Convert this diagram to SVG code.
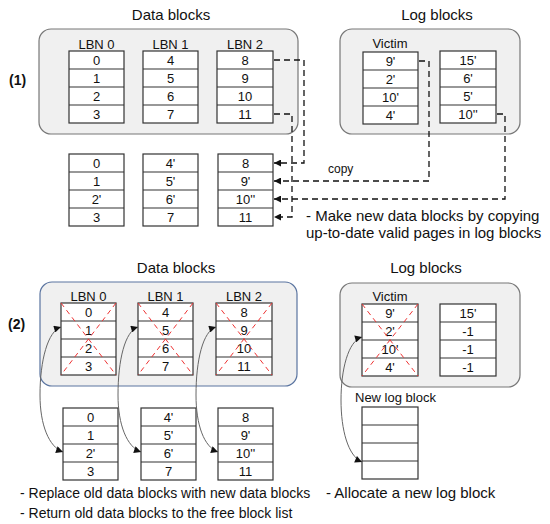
<svg xmlns="http://www.w3.org/2000/svg" width="550" height="524" viewBox="0 0 550 524">
<defs>
<style>
text{font-family:"Liberation Sans",Arial,sans-serif;fill:#111}
.t{font-size:15px;text-anchor:middle}
.n{font-size:15px}
.m{font-size:14px}
.lbl{font-size:13px;text-anchor:middle}
.c{font-size:13px;text-anchor:middle}
.b{font-size:14px;font-weight:bold}
.panel{fill:#f0f0f0;stroke:#777;stroke-width:1.2}
.panelb{fill:#f0f0f0;stroke:#5a74a0;stroke-width:1.2}
.cell{fill:#fff;stroke:#333;stroke-width:1.2}
.ln{stroke:#333;stroke-width:1.2}
.x{stroke:#e33;stroke-width:1;stroke-dasharray:5 4}
.dash{fill:none;stroke:#111;stroke-width:1.3;stroke-dasharray:6 4}
.curve{fill:none;stroke:#666;stroke-width:1}
</style>
<marker id="ah" viewBox="0 0 10 10" refX="10" refY="5" markerWidth="8" markerHeight="7" markerUnits="userSpaceOnUse" orient="auto"><path d="M0,0 L10,5 L0,10 z" fill="#111"/></marker>
<marker id="ac" viewBox="0 0 10 10" refX="10" refY="5" markerWidth="8" markerHeight="7" markerUnits="userSpaceOnUse" orient="auto-start-reverse"><path d="M0,0 L10,5 L0,10 z" fill="#111"/></marker>
</defs>
<rect width="550" height="524" fill="#fff"/>

<!-- Part 1 -->
<g id="label1"><text class="b" x="9" y="85">(1)</text></g>
<g id="data-panel-1">
<rect class="panel" x="39" y="29" width="259" height="105" rx="12"/>
<text class="t" x="171" y="20">Data blocks</text>
</g>
<g id="log-panel-1">
<rect class="panel" x="340" y="29" width="180" height="105" rx="12"/>
<text class="t" x="437" y="20">Log blocks</text>
</g>

<g id="p1-lbn0">
<text class="lbl" x="96.5" y="49">LBN 0</text>
<rect class="cell" x="69" y="51" width="55" height="72"/>
<path class="ln" d="M69,69H124M69,87H124M69,105H124"/>
<text class="c" x="96.5" y="64.5">0</text><text class="c" x="96.5" y="82.5">1</text><text class="c" x="96.5" y="100.5">2</text><text class="c" x="96.5" y="118.5">3</text>
</g>
<g id="p1-lbn1">
<text class="lbl" x="170.5" y="49">LBN 1</text>
<rect class="cell" x="143" y="51" width="55" height="72"/>
<path class="ln" d="M143,69H198M143,87H198M143,105H198"/>
<text class="c" x="170.5" y="64.5">4</text><text class="c" x="170.5" y="82.5">5</text><text class="c" x="170.5" y="100.5">6</text><text class="c" x="170.5" y="118.5">7</text>
</g>
<g id="p1-lbn2">
<text class="lbl" x="245" y="49">LBN 2</text>
<rect class="cell" x="217" y="51" width="56" height="72"/>
<path class="ln" d="M217,69H273M217,87H273M217,105H273"/>
<text class="c" x="245" y="64.5">8</text><text class="c" x="245" y="82.5">9</text><text class="c" x="245" y="100.5">10</text><text class="c" x="245" y="118.5">11</text>
</g>
<g id="p1-victim">
<text class="lbl" x="390" y="48">Victim</text>
<rect class="cell" x="363" y="52" width="55" height="72"/>
<path class="ln" d="M363,70H418M363,88H418M363,106H418"/>
<text class="c" x="390.5" y="65.5">9'</text><text class="c" x="390.5" y="83.5">2'</text><text class="c" x="390.5" y="101.5">10'</text><text class="c" x="390.5" y="119.5">4'</text>
</g>
<g id="p1-log2">
<rect class="cell" x="440" y="51" width="56" height="72"/>
<path class="ln" d="M440,69H496M440,87H496M440,105H496"/>
<text class="c" x="468" y="64.5">15'</text><text class="c" x="468" y="82.5">6'</text><text class="c" x="468" y="100.5">5'</text><text class="c" x="468" y="118.5">10''</text>
</g>

<g id="p1-new0">
<rect class="cell" x="69" y="154" width="55" height="72"/>
<path class="ln" d="M69,172H124M69,190H124M69,208H124"/>
<text class="c" x="96.5" y="167.5">0</text><text class="c" x="96.5" y="185.5">1</text><text class="c" x="96.5" y="203.5">2'</text><text class="c" x="96.5" y="221.5">3</text>
</g>
<g id="p1-new1">
<rect class="cell" x="143" y="154" width="55" height="72"/>
<path class="ln" d="M143,172H198M143,190H198M143,208H198"/>
<text class="c" x="170.5" y="167.5">4'</text><text class="c" x="170.5" y="185.5">5'</text><text class="c" x="170.5" y="203.5">6'</text><text class="c" x="170.5" y="221.5">7</text>
</g>
<g id="p1-new2">
<rect class="cell" x="218" y="154" width="55" height="72"/>
<path class="ln" d="M218,172H273M218,190H273M218,208H273"/>
<text class="c" x="245.5" y="167.5">8</text><text class="c" x="245.5" y="185.5">9'</text><text class="c" x="245.5" y="203.5">10''</text><text class="c" x="245.5" y="221.5">11</text>
</g>

<g id="connectors-1">
<path class="dash" d="M274,60H304V163H274" marker-end="url(#ah)"/>
<path class="dash" d="M274,114H292V217H274" marker-end="url(#ah)"/>
<path class="dash" d="M419,61H429V181H274" marker-end="url(#ah)"/>
<path class="dash" d="M497,114H505V199H274" marker-end="url(#ah)"/>
<text style="font-size:12px" x="328" y="173">copy</text>
</g>
<g id="note-1">
<text class="n" x="306" y="221">- Make new data blocks by copying</text>
<text class="n" x="306" y="238">up-to-date valid pages in log blocks</text>
</g>

<!-- Part 2 -->
<g id="label2"><text class="b" x="8" y="329">(2)</text></g>
<g id="data-panel-2">
<rect class="panelb" x="40" y="282" width="257" height="104" rx="12"/>
<text class="t" x="176" y="273">Data blocks</text>
</g>
<g id="log-panel-2">
<rect class="panel" x="340" y="283" width="180" height="104" rx="12"/>
<text class="t" x="426" y="273">Log blocks</text>
</g>

<g id="p2-lbn0">
<text class="lbl" x="88.5" y="301">LBN 0</text>
<rect class="cell" x="61" y="303" width="55" height="72"/>
<path class="ln" d="M61,321H116M61,339H116M61,357H116"/>
<text class="c" x="88.5" y="316.5">0</text><text class="c" x="88.5" y="334.5">1</text><text class="c" x="88.5" y="352.5">2</text><text class="c" x="88.5" y="370.5">3</text>
<path class="x" d="M61,303L116,375M116,303L61,375"/>
</g>
<g id="p2-lbn1">
<text class="lbl" x="165.5" y="301">LBN 1</text>
<rect class="cell" x="138" y="303" width="55" height="72"/>
<path class="ln" d="M138,321H193M138,339H193M138,357H193"/>
<text class="c" x="165.5" y="316.5">4</text><text class="c" x="165.5" y="334.5">5</text><text class="c" x="165.5" y="352.5">6</text><text class="c" x="165.5" y="370.5">7</text>
<path class="x" d="M138,303L193,375M193,303L138,375"/>
</g>
<g id="p2-lbn2">
<text class="lbl" x="244" y="301">LBN 2</text>
<rect class="cell" x="216" y="303" width="56" height="72"/>
<path class="ln" d="M216,321H272M216,339H272M216,357H272"/>
<text class="c" x="244" y="316.5">8</text><text class="c" x="244" y="334.5">9</text><text class="c" x="244" y="352.5">10</text><text class="c" x="244" y="370.5">11</text>
<path class="x" d="M216,303L272,375M272,303L216,375"/>
</g>
<g id="p2-victim">
<text class="lbl" x="390" y="301">Victim</text>
<rect class="cell" x="362" y="304" width="56" height="72"/>
<path class="ln" d="M362,322H418M362,340H418M362,358H418"/>
<text class="c" x="390" y="317.5">9'</text><text class="c" x="390" y="335.5">2'</text><text class="c" x="390" y="353.5">10'</text><text class="c" x="390" y="371.5">4'</text>
<path class="x" d="M362,304L418,376M418,304L362,376"/>
</g>
<g id="p2-log2">
<rect class="cell" x="440" y="304" width="56" height="72"/>
<path class="ln" d="M440,322H496M440,340H496M440,358H496"/>
<text class="c" x="468" y="317.5">15'</text><text class="c" x="468" y="335.5">-1</text><text class="c" x="468" y="353.5">-1</text><text class="c" x="468" y="371.5">-1</text>
</g>

<g id="p2-new0">
<rect class="cell" x="63" y="408" width="55" height="72"/>
<path class="ln" d="M63,426H118M63,444H118M63,462H118"/>
<text class="c" x="90.5" y="421.5">0</text><text class="c" x="90.5" y="439.5">1</text><text class="c" x="90.5" y="457.5">2'</text><text class="c" x="90.5" y="475.5">3</text>
</g>
<g id="p2-new1">
<rect class="cell" x="141" y="408" width="55" height="72"/>
<path class="ln" d="M141,426H196M141,444H196M141,462H196"/>
<text class="c" x="168.5" y="421.5">4'</text><text class="c" x="168.5" y="439.5">5'</text><text class="c" x="168.5" y="457.5">6'</text><text class="c" x="168.5" y="475.5">7</text>
</g>
<g id="p2-new2">
<rect class="cell" x="218" y="408" width="55" height="72"/>
<path class="ln" d="M218,426H273M218,444H273M218,462H273"/>
<text class="c" x="245.5" y="421.5">8</text><text class="c" x="245.5" y="439.5">9'</text><text class="c" x="245.5" y="457.5">10''</text><text class="c" x="245.5" y="475.5">11</text>
</g>
<g id="p2-newlog">
<text style="font-size:13px" x="355" y="402">New log block</text>
<rect class="cell" x="362" y="407" width="56" height="72"/>
<path class="ln" d="M362,425H418M362,443H418M362,461H418"/>
</g>

<g id="connectors-2">
<path class="curve" d="M61,327C48,331 40,360 40,395C40,425 49,447 63,452" marker-start="url(#ac)" marker-end="url(#ac)"/>
<path class="curve" d="M138,327C125,331 118,360 118,395C118,425 127,447 141,452" marker-start="url(#ac)" marker-end="url(#ac)"/>
<path class="curve" d="M216,327C203,331 196,360 196,395C196,425 204,447 218,452" marker-start="url(#ac)" marker-end="url(#ac)"/>
<path class="curve" d="M362,337C348,341 341,370 341,400C341,430 348,456 362,462" marker-start="url(#ac)" marker-end="url(#ac)"/>
</g>

<g id="note-2">
<text class="m" x="20" y="498">- Replace old data blocks with new data blocks</text>
<text class="m" x="20" y="518">- Return old data blocks to the free block list</text>
<text class="n" x="326" y="498">- Allocate a new log block</text>
</g>
</svg>
